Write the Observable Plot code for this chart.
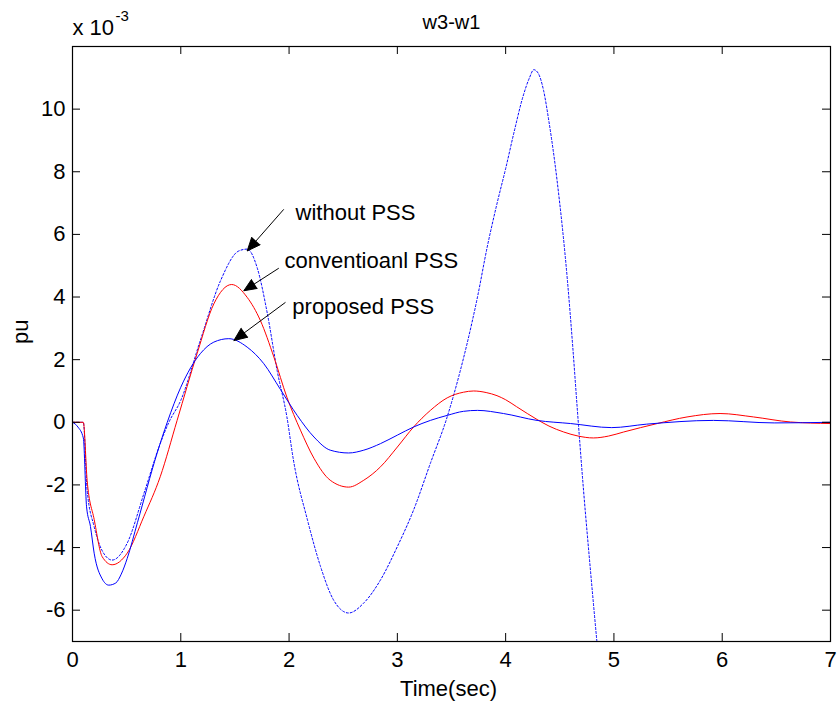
<!DOCTYPE html>
<html><head><meta charset="utf-8">
<script src="https://cdn.jsdelivr.net/npm/d3@7"></script>
<script src="https://cdn.jsdelivr.net/npm/@observablehq/plot@0.6"></script>
<style>body{margin:0;background:#fff} svg{display:block}</style>
</head><body><div id="chart"></div>
<script>
const xTicks = [0, 1, 2, 3, 4, 5, 6, 7];
const yTicks = [-6, -4, -2, 0, 2, 4, 6, 8, 10];

// without PSS (blue dotted)
const withoutT = [0, 0.1, 0.135, 0.2, 0.274, 0.366, 0.505, 0.66, 0.81, 0.89, 1.0, 1.18, 1.367, 1.535, 1.613, 1.705, 1.8, 1.89, 1.98, 2.04, 2.17, 2.29, 2.41, 2.55, 2.69, 2.845, 3.0, 3.15, 3.305, 3.46, 3.57, 3.645, 3.74, 3.83, 3.92, 4.0, 4.08, 4.16, 4.22, 4.26, 4.3, 4.35, 4.4, 4.475, 4.57, 4.62, 4.66, 4.72, 4.78, 4.84, 4.9];
const withoutV = [0, 0, -2.16, -3.33, -4.1, -4.4, -3.86, -2.27, -0.68, 0, 0.7, 2.61, 4.52, 5.47, 5.53, 4.94, 3.46, 1.65, 0.17, -1.2, -3.12, -4.6, -5.67, -6.09, -5.77, -5.03, -3.97, -2.8, -1.31, 0.17, 1.5, 2.53, 4.0, 5.6, 6.98, 8.1, 9.3, 10.4, 11.0, 11.26, 11.15, 10.6, 9.6, 7.72, 4.55, 2.4, 0.5, -2.2, -4.6, -6.9, -9.1];

// conventional PSS (red)
const convT = [0, 0.1, 0.135, 0.2, 0.274, 0.366, 0.505, 0.66, 0.81, 0.966, 1.15, 1.305, 1.47, 1.613, 1.735, 1.86, 1.98, 2.105, 2.23, 2.38, 2.55, 2.69, 2.845, 3.0, 3.15, 3.305, 3.46, 3.61, 3.705, 3.82, 3.92, 4.0, 4.1, 4.2, 4.29, 4.4, 4.536, 4.67, 4.81, 4.95, 5.09, 5.4, 5.675, 5.98, 6.29, 6.63, 7.0];
const convV = [0, 0, -1.85, -3.1, -4.29, -4.55, -4.18, -3.0, -1.74, 0.06, 2.19, 3.78, 4.4, 3.99, 3.25, 2.08, 0.8, -0.25, -1.15, -1.85, -2.07, -1.85, -1.42, -0.79, -0.15, 0.38, 0.78, 0.96, 1.0, 0.95, 0.85, 0.72, 0.5, 0.28, 0.09, -0.12, -0.31, -0.44, -0.5, -0.44, -0.31, -0.04, 0.17, 0.28, 0.17, 0.01, -0.04];

// proposed PSS (blue solid)
const propT = [0, 0.05, 0.1, 0.13, 0.166, 0.2, 0.274, 0.335, 0.4, 0.45, 0.505, 0.6, 0.78, 0.875, 1.0, 1.18, 1.305, 1.443, 1.613, 1.767, 1.92, 2.075, 2.23, 2.38, 2.55, 2.69, 2.845, 3.0, 3.15, 3.305, 3.46, 3.61, 3.74, 3.98, 4.29, 4.6, 4.98, 5.3, 5.92, 6.48, 7.0];
const propV = [0, -0.15, -0.5, -2.7, -3.33, -4.18, -5.0, -5.2, -5.13, -4.85, -4.35, -3.2, -1.0, 0, 1.12, 2.19, 2.56, 2.67, 2.4, 1.87, 1.05, 0.22, -0.47, -0.89, -0.98, -0.89, -0.68, -0.41, -0.15, 0.06, 0.22, 0.35, 0.38, 0.28, 0.06, -0.04, -0.17, -0.06, 0.06, -0.02, 0];

// annotations
const labels = ["without PSS", "conventioanl PSS", "proposed PSS"];
const labelT = [2.06, 1.958, 2.03];
const labelV = [6.69, 5.16, 3.67];
const arrowT1 = [1.951, 1.905, 1.967];
const arrowV1 = [6.8, 4.92, 3.83];
const arrowT2 = [1.613, 1.582, 1.49];
const arrowV2 = [5.47, 4.2, 2.61];

const toRows = (T, V) => T.map((t, i) => ({t, v: V[i]}));
const withoutData = toRows(withoutT, withoutV);
const convData = toRows(convT, convV);
const propData = toRows(propT, propV);
const labelData = labels.map((s, i) => ({s, t: labelT[i], v: labelV[i]}));
const arrowData = labels.map((s, i) => ({x1: arrowT1[i], y1: arrowV1[i], x2: arrowT2[i], y2: arrowV2[i]}));

const W = 838, H = 706, mL = 72, mR = 8, mT = 46, mB = 65;
const innerW = W - mL - mR, innerH = H - mT - mB, tick = 8;
const font = "'Liberation Sans', Arial, Helvetica, sans-serif";

const chart = Plot.plot({
  width: W, height: H,
  marginLeft: mL, marginRight: mR, marginTop: mT, marginBottom: mB,
  style: {fontFamily: font, fontSize: "22px", color: "black", background: "white"},
  x: {domain: [0, 7]},
  y: {domain: [-7, 12]},
  marks: [
    Plot.line(withoutData, {x: "t", y: "v", stroke: "#0000ff", strokeWidth: 1, strokeDasharray: "2,2", curve: "monotone-x", clip: true}),
    Plot.line(convData, {x: "t", y: "v", stroke: "#ff0000", strokeWidth: 1, curve: "monotone-x", clip: true}),
    Plot.line(propData, {x: "t", y: "v", stroke: "#0000ff", strokeWidth: 1, curve: "monotone-x", clip: true}),
    Plot.frame({stroke: "black", strokeWidth: 1.2}),
    Plot.tickX(xTicks, {x: d => d, insetTop: innerH - tick, stroke: "black"}),
    Plot.tickX(xTicks, {x: d => d, insetBottom: innerH - tick, stroke: "black"}),
    Plot.tickY(yTicks, {y: d => d, insetRight: innerW - tick, stroke: "black"}),
    Plot.tickY(yTicks, {y: d => d, insetLeft: innerW - tick, stroke: "black"}),
    Plot.axisX({ticks: xTicks, tickSize: 0, tickPadding: 10, label: null, tickFormat: d => String(d)}),
    Plot.axisY({ticks: yTicks, tickSize: 0, tickPadding: 7, label: null, tickFormat: d => String(d)}),
    Plot.text(["Time(sec)"], {text: d => d, frameAnchor: "bottom", dy: 47, dx: -3, lineAnchor: "middle"}),
    Plot.text(["pu"], {text: d => d, frameAnchor: "left", dx: -52, rotate: -90, lineAnchor: "middle"}),
    Plot.text(["w3-w1"], {text: d => d, frameAnchor: "top", dy: -24, lineAnchor: "middle", fontSize: 20}),
    Plot.text(["x 10"], {text: d => d, frameAnchor: "top-left", dy: -19, textAnchor: "start", lineAnchor: "middle"}),
    Plot.text(["-3"], {text: d => d, frameAnchor: "top-left", dx: 43, dy: -30, textAnchor: "start", lineAnchor: "middle", fontSize: 15}),
    Plot.arrow(arrowData, {x1: "x1", y1: "y1", x2: "x2", y2: "y2", stroke: "black", fill: "black", strokeWidth: 1, headLength: 22, headAngle: 46, strokeLinecap: "butt", strokeLinejoin: "miter"}),
    Plot.text(labelData, {x: "t", y: "v", text: "s", textAnchor: "start", lineAnchor: "middle", fontSize: 22})
  ]
});
document.getElementById("chart").appendChild(chart);
</script>
</body></html>
